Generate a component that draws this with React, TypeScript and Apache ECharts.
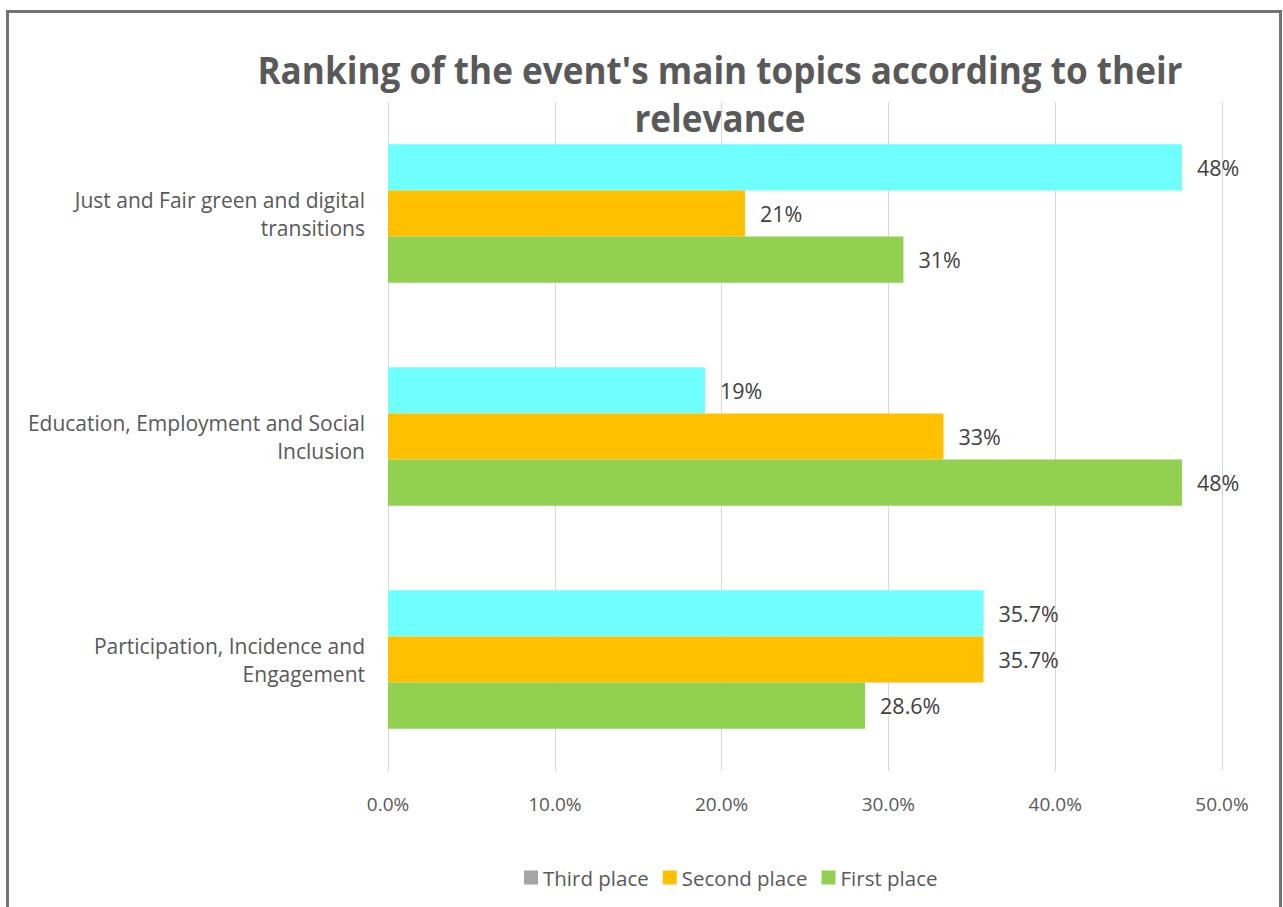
import React, { useEffect, useRef } from "react";
import * as echarts from "echarts";

const categories = [
  "Participation, Incidence and\nEngagement",
  "Education, Employment and Social\nInclusion",
  "Just and Fair green and digital\ntransitions",
];
const seriesNames = ["Third place", "Second place", "First place"];
const thirdPlace = [35.7, 19.0, 47.6];
const secondPlace = [35.7, 33.3, 21.4];
const firstPlace = [28.6, 47.6, 30.9];
const thirdLabels = ["35.7%", "19%", "48%"];
const secondLabels = ["35.7%", "33%", "21%"];
const firstLabels = ["28.6%", "48%", "31%"];
const xTicks = [0, 10, 20, 30, 40, 50];
const titleLines = ["Ranking of the event's main topics according to their", "relevance"];

const FONT = "'Open Sans', 'Noto Sans', sans-serif";

export default function App() {
  const ref = useRef<HTMLDivElement>(null);
  useEffect(() => {
    document.body.style.margin = "0";
    const chart = echarts.init(ref.current!, null, { renderer: "svg" });
    const mk = (name: string, data: number[], labels: string[], color: string) => ({
      name,
      type: "bar",
      data,
      barCategoryGap: "38%",
      barGap: "0%",
      itemStyle: { color },
      label: {
        show: true,
        position: "right",
        distance: 15,
        color: "#404040",
        fontFamily: FONT,
        fontSize: 21.5,
        formatter: (p: any) => labels[p.dataIndex],
      },
    });
    chart.setOption({
      animation: false,
      backgroundColor: "#ffffff",
      textStyle: { fontFamily: FONT },
      graphic: [
        {
          type: "rect",
          shape: { x: 7.5, y: 11.5, width: 1273, height: 920 },
          style: { fill: "none", stroke: "#767171", lineWidth: 3 },
          z: 100,
        },
        {
          type: "text",
          x: 720,
          y: 93,
          scaleX: 0.924,
          style: {
            text: titleLines.join("\n"),
            fill: "#595959",
            font: "bold 38px 'Open Sans', sans-serif",
            textAlign: "center",
            textVerticalAlign: "middle",
            lineHeight: 48,
          },
        },
      ],
      legend: {
        bottom: 14,
        left: 519,
        itemWidth: 14,
        itemHeight: 14,
        itemGap: 14,
        icon: "rect",
        textStyle: { color: "#595959", fontSize: 20.5, fontFamily: FONT },
        data: [
          { name: "Third place", itemStyle: { color: "#a5a5a5" } },
          { name: "Second place" },
          { name: "First place" },
        ],
      },
      grid: { left: 388, right: 61, top: 102, bottom: 136, containLabel: false },
      xAxis: {
        type: "value",
        min: 0,
        max: 50,
        interval: 10,
        axisLine: { show: false },
        axisTick: { show: false },
        splitLine: { lineStyle: { color: "#d9d9d9", width: 1 } },
        axisLabel: {
          color: "#595959",
          fontSize: 19,
          margin: 23,
          formatter: (v: number) => (xTicks.includes(v) ? v.toFixed(1) + "%" : ""),
        },
      },
      yAxis: {
        type: "category",
        data: categories,
        axisLine: { show: false },
        axisTick: { show: false },
        axisLabel: {
          color: "#595959",
          fontSize: 21,
          lineHeight: 28,
          margin: 23,
          align: "right",
        },
      },
      series: [
        mk(seriesNames[0], thirdPlace, thirdLabels, "#70ffff"),
        mk(seriesNames[1], secondPlace, secondLabels, "#ffc000"),
        mk(seriesNames[2], firstPlace, firstLabels, "#92d050"),
      ],
    });
    return () => chart.dispose();
  }, []);
  return <div ref={ref} style={{ width: 1283, height: 907 }} />;
}
